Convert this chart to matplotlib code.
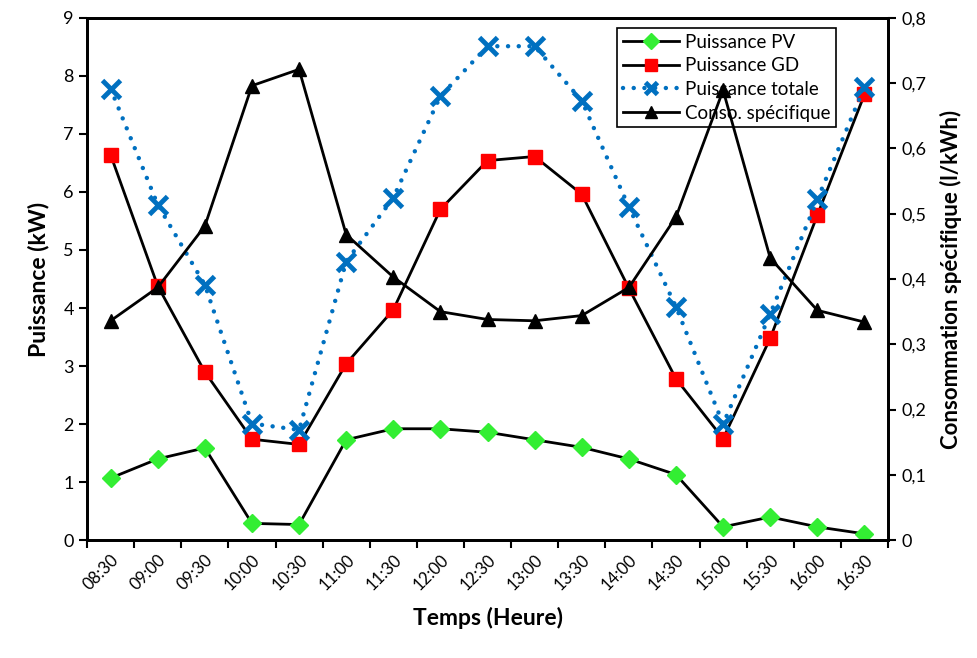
import matplotlib
matplotlib.use("Agg")
import matplotlib.pyplot as plt
import numpy as np

plt.rcParams['font.family'] = ['Lato', 'DejaVu Sans']

heures = ['08:30', '09:00', '09:30', '10:00', '10:30', '11:00', '11:30', '12:00', '12:30',
          '13:00', '13:30', '14:00', '14:30', '15:00', '15:30', '16:00', '16:30']
puissance_pv = [1.07, 1.40, 1.59, 0.29, 0.27, 1.73, 1.92, 1.92, 1.86,
                1.73, 1.60, 1.40, 1.13, 0.23, 0.40, 0.23, 0.11]
puissance_gd = [6.64, 4.38, 2.90, 1.74, 1.65, 3.04, 3.97, 5.70, 6.54,
                6.61, 5.96, 4.34, 2.78, 1.75, 3.48, 5.60, 7.68]
puissance_tot = [7.78, 5.78, 4.40, 2.01, 1.90, 4.80, 5.90, 7.65, 8.51,
                 8.51, 7.57, 5.74, 4.02, 2.00, 3.90, 5.87, 7.81]
conso_spec = [0.336, 0.387, 0.481, 0.696, 0.721, 0.468, 0.403, 0.350, 0.338,
              0.336, 0.344, 0.387, 0.495, 0.689, 0.432, 0.352, 0.334]

x = np.arange(len(heures))

fig = plt.figure(figsize=(9.78, 6.58), dpi=100)
ax = fig.add_axes([0.089, 0.179, 0.819, 0.794])
ax2 = ax.twinx()

l1, = ax.plot(x, puissance_pv, color='black', lw=2, marker='D', ms=9,
              mfc='#33ee33', mec='#33ee33', zorder=3)
l2, = ax.plot(x, puissance_gd, color='black', lw=2, marker='s', ms=10,
              mfc='#ff0000', mec='#ff0000', zorder=3)
l3, = ax.plot(x, puissance_tot, color='#0070c0', lw=3.2, ls=(0, (0.01, 2.4)),
              dash_capstyle='round', marker='x', ms=13, mew=3.5, zorder=4)
l4, = ax2.plot(x, conso_spec, color='black', lw=2, marker='^', ms=10,
               mfc='black', mec='black')

ax.set_xlim(-0.5, len(heures) - 0.5)
ax.set_ylim(0, 9)
ax2.set_ylim(0, 0.8)

ax.set_yticks(range(0, 10))
ax2.set_yticks(np.arange(0, 0.81, 0.1))
ax2.set_yticklabels(['0'] + ['0,%d' % i for i in range(1, 9)])

ax.set_xticks(x)
ax.set_xticklabels(heures, rotation=45, ha='right', rotation_mode='anchor')
ax.set_xticks(np.arange(-0.5, len(heures), 1), minor=True)
ax.tick_params(axis='x', which='major', length=0, labelsize=12, pad=8)
ax.tick_params(axis='x', which='minor', length=6, width=1.5, direction='out')
ax.tick_params(axis='y', labelsize=13, length=6, width=1.5, direction='out')
ax2.tick_params(axis='y', labelsize=13, length=6, width=1.5, direction='out')

for sp in ax.spines.values():
    sp.set_linewidth(2)
for sp in ax2.spines.values():
    sp.set_linewidth(2)

ax.set_xlabel('Temps (Heure)', fontsize=16.5, fontweight='bold', labelpad=10)
ax.set_ylabel('Puissance (kW)', fontsize=16.5, fontweight='bold', labelpad=10)
ax2.set_ylabel('Consommation spécifique (l/kWh)', fontsize=16, fontweight='bold', labelpad=10)

leg = ax.legend([l1, l2, l3, l4],
                ['Puissance PV', 'Puissance GD', 'Puissance totale', 'Conso. spécifique'],
                loc='upper right', bbox_to_anchor=(0.935, 0.98), fontsize=13.5,
                fancybox=False, framealpha=1, edgecolor='black',
                handlelength=3.0, borderpad=0.3, labelspacing=0.35, handletextpad=0.3,
                borderaxespad=0)
leg.get_frame().set_linewidth(1.2)
leg.set_zorder(1)
for h in leg.legend_handles:
    h.set_markersize(8)

fig.savefig('out.png', dpi=100)
